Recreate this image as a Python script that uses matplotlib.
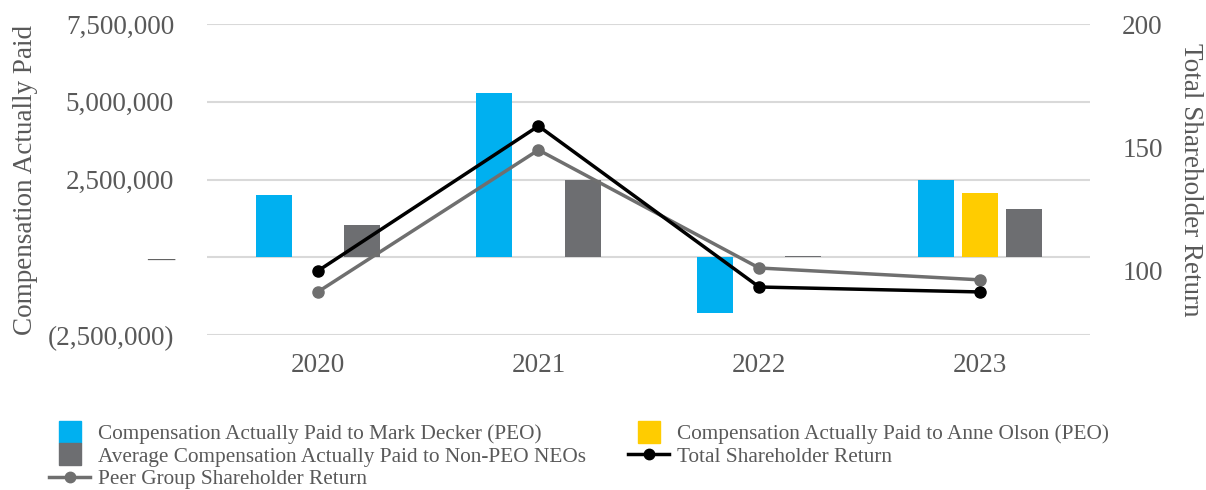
import numpy as np
import matplotlib.pyplot as plt
from matplotlib.ticker import FuncFormatter
from matplotlib.lines import Line2D

plt.rcParams['font.family'] = ['Liberation Serif', 'DejaVu Serif']

years = ['2020', '2021', '2022', '2023']
cap_decker = [2000000, 5270000, -1800000, 2500000]
cap_olson = [np.nan, np.nan, np.nan, 2060000]
cap_non_peo = [1030000, 2500000, 60000, 1540000]
tsr = [100.0, 158.7, 93.5, 91.5]
peer_tsr = [91.5, 149.0, 101.2, 96.4]

txt = '#595959'
c_blue = '#00B0F0'
c_yellow = '#FFCC00'
c_gray = '#6D6E71'
c_peer = '#6F6F6F'
fs = 19.5

fig = plt.figure(figsize=(12.06, 4.9), dpi=100)
ax = fig.add_axes([0.172, 0.316, 0.732, 0.635])
ax2 = ax.twinx()

x = np.arange(len(years))
w = 0.163
ax.bar(x - 0.2, cap_decker, w, color=c_blue, zorder=2)
ax.bar(x, cap_olson, w, color=c_yellow, zorder=2)
ax.bar(x + 0.2, cap_non_peo, w, color=c_gray, zorder=2)

ax.set_ylim(-2500000, 7500000)
ax.set_yticks([-2500000, 0, 2500000, 5000000, 7500000])

def money(v, pos):
    if v == 0:
        return '—'
    if v < 0:
        return '({:,.0f})'.format(-v)
    return '{:,.0f}'.format(v)

ax.yaxis.set_major_formatter(FuncFormatter(money))
ax.set_xlim(-0.5, 3.5)
ax.set_xticks(x)
ax.set_xticklabels(years)
ax.grid(axis='y', color='#D9D9D9', linewidth=1.5, zorder=0)
ax.set_axisbelow(True)

ax2.plot(x, tsr, color='black', lw=2.5, marker='o', ms=8, zorder=4)
ax2.plot(x, peer_tsr, color=c_peer, lw=2.5, marker='o', ms=8, zorder=3)
ax2.set_ylim(74, 200)
ax2.set_yticks([100, 150, 200])

for a in (ax, ax2):
    for s in a.spines.values():
        s.set_visible(False)
    a.tick_params(length=0, labelsize=fs, colors=txt)
ax.tick_params(axis='y', pad=24)
ax2.tick_params(axis='y', pad=23)
ax.tick_params(axis='x', pad=13)

ax.set_ylabel('Compensation Actually Paid', fontsize=fs, color=txt, labelpad=7)
ax2.set_ylabel('Total Shareholder Return', fontsize=fs, color=txt, rotation=270, labelpad=29)

handles = [
    Line2D([], [], ls='none', marker='s', ms=16.5, color=c_blue),
    Line2D([], [], ls='none', marker='s', ms=16.5, color=c_gray),
    Line2D([], [], color=c_peer, lw=2.5, marker='o', ms=7.5),
    Line2D([], [], ls='none', marker='s', ms=16.5, color=c_yellow),
    Line2D([], [], color='black', lw=2.5, marker='o', ms=7.5),
]
labels = [
    'Compensation Actually Paid to Mark Decker (PEO)',
    'Average Compensation Actually Paid to Non-PEO NEOs',
    'Peer Group Shareholder Return',
    'Compensation Actually Paid to Anne Olson (PEO)',
    'Total Shareholder Return',
]
fig.legend(handles, labels, loc='upper left', bbox_to_anchor=(0.041, 0.134),
           ncol=2, frameon=False, fontsize=15.3, labelcolor=txt,
           handlelength=1.9, handletextpad=0.38,
           columnspacing=2.0, labelspacing=0.12, borderaxespad=0, borderpad=0)

fig.savefig('out.png', dpi=100)
